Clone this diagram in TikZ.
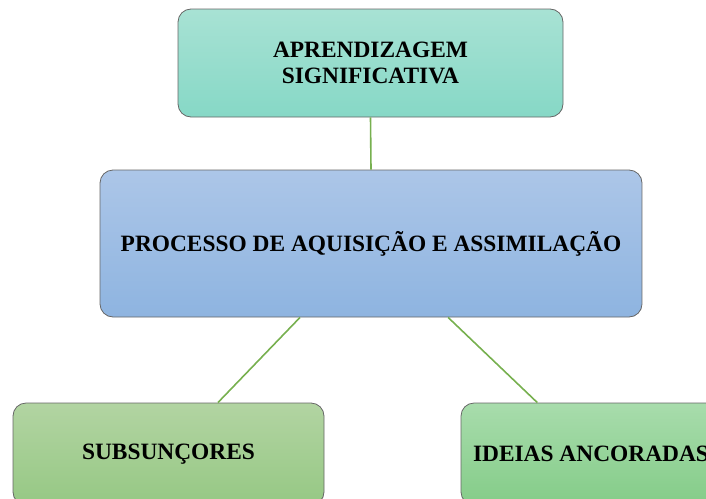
\documentclass[tikz,border=0pt]{standalone}
\usepackage{fontspec}
\setmainfont{Liberation Serif}
\begin{document}
\begin{tikzpicture}[x=1pt,y=-1pt,
  box/.style={draw=black!60,line width=0.8pt,rounded corners=13pt,inner sep=0pt,align=center,font=\fontsize{23.4}{26}\selectfont\bfseries}]
\definecolor{lnk}{HTML}{77B04F}
\useasboundingbox (0,0) rectangle (706,498);
\clip (0,0) rectangle (706,498);
\node[box,minimum width=385pt,minimum height=108pt,top color={rgb,255:red,168;green,226;blue,212},bottom color={rgb,255:red,134;green,216;blue,198}] (a) at (370.5,63) {APRENDIZAGEM\\SIGNIFICATIVA};
\node[box,minimum width=542pt,minimum height=147pt,top color={rgb,255:red,172;green,198;blue,232},bottom color={rgb,255:red,142;green,180;blue,224}] (b) at (371,243.5) {PROCESSO DE AQUISIÇÃO E ASSIMILAÇÃO};
\node[box,minimum width=311pt,minimum height=102pt,top color={rgb,255:red,178;green,212;blue,162},bottom color={rgb,255:red,150;green,200;blue,132}] (c) at (168.5,454) {SUBSUNÇORES};
\node[box,minimum width=260pt,minimum height=102pt,top color={rgb,255:red,168;green,220;blue,172},bottom color={rgb,255:red,132;green,204;blue,136}] (d) at (591,454) {IDEIAS ANCORADAS};
\draw[lnk,line width=1.6pt] (a.south) -- (b.north);
\draw[lnk,line width=1.6pt] (b) -- (c);
\draw[lnk,line width=1.6pt] (b) -- (d);
\end{tikzpicture}
\end{document}
